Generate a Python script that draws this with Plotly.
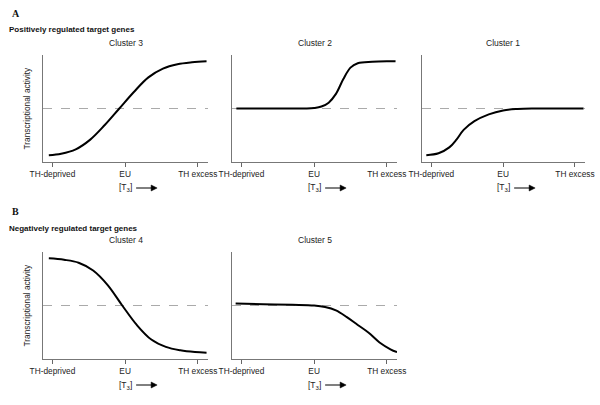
import plotly.graph_objects as go

# ---- data ----
tick_vals = [0, 1, 2]
tick_labels = ["TH-deprived", "EU", "TH excess"]
baseline = 0.5

c3_x = [-0.05, 0.12, 0.32, 0.52, 0.72, 0.92, 1.12, 1.32, 1.52, 1.72, 1.92, 2.12]
c3_y = [0.02, 0.035, 0.08, 0.18, 0.33, 0.5, 0.67, 0.82, 0.91, 0.955, 0.975, 0.985]

c2_x = [-0.07, 0.5, 0.9, 1.0, 1.1, 1.2, 1.3, 1.4, 1.5, 1.6, 1.8, 2.0, 2.12]
c2_y = [0.5, 0.5, 0.5, 0.505, 0.52, 0.56, 0.65, 0.8, 0.92, 0.965, 0.98, 0.985, 0.985]

c1_x = [-0.07, 0.1, 0.25, 0.35, 0.45, 0.6, 0.8, 1.0, 1.2, 1.4, 1.8, 2.12]
c1_y = [0.02, 0.04, 0.1, 0.18, 0.28, 0.37, 0.44, 0.48, 0.495, 0.5, 0.5, 0.5]

c4_x = [-0.05, 0.16, 0.36, 0.56, 0.76, 0.96, 1.16, 1.36, 1.56, 1.76, 1.96, 2.12]
c4_y = [0.985, 0.97, 0.94, 0.86, 0.71, 0.5, 0.3, 0.15, 0.075, 0.04, 0.022, 0.015]

c5_x = [-0.08, 0.3, 0.7, 1.0, 1.15, 1.3, 1.45, 1.6, 1.75, 1.9, 2.05, 2.14]
c5_y = [0.52, 0.513, 0.507, 0.5, 0.485, 0.45, 0.38, 0.3, 0.22, 0.12, 0.05, 0.02]

panels = [
    ("Cluster 3", c3_x, c3_y, (43, 208), (55, 162), True),
    ("Cluster 2", c2_x, c2_y, (232, 397), (55, 162), False),
    ("Cluster 1", c1_x, c1_y, (422, 585), (55, 162), False),
    ("Cluster 4", c4_x, c4_y, (43, 208), (252, 359), True),
    ("Cluster 5", c5_x, c5_y, (232, 397), (252, 359), False),
]

W, H = 600, 405
XR = [-0.13, 2.14]
FONT = "Liberation Sans, Arial, sans-serif"
fig = go.Figure()
annotations = []
shapes = []


def px(xp):
    return xp / W


def py(yp):
    return 1 - yp / H


def txt(text, x, y, size=8.5, xanchor="center", family=FONT, color="#222", angle=0):
    return dict(text=text, x=px(x), y=py(y), xref="paper", yref="paper", showarrow=False,
                xanchor=xanchor, yanchor="middle", textangle=angle,
                font=dict(family=family, size=size, color=color))


for i, (name, xs, ys, (x0, x1), (y0, y1), ytitle) in enumerate(panels):
    n = "" if i == 0 else str(i + 1)
    xa, ya = "x" + n, "y" + n
    fig.add_trace(go.Scatter(
        x=xs, y=ys, mode="lines", line=dict(color="#000", width=2, shape="spline", smoothing=1.0),
        xaxis=xa, yaxis=ya, showlegend=False, hoverinfo="skip"))
    fig.layout["xaxis" + n] = dict(
        domain=[px(x0), px(x1)], anchor=ya, range=XR, automargin=False,
        tickvals=tick_vals, ticktext=tick_labels, ticks="outside", ticklen=4,
        tickcolor="#666", tickwidth=1, showline=True, linecolor="#777", linewidth=1,
        showgrid=False, zeroline=False, fixedrange=True,
        tickfont=dict(family=FONT, size=8.3, color="#222"))
    fig.layout["yaxis" + n] = dict(
        domain=[py(y1), py(y0)], anchor=xa, range=[-0.05, 1.05], automargin=False,
        showticklabels=False, ticks="", showline=True, linecolor="#777", linewidth=1,
        showgrid=False, zeroline=False, fixedrange=True)
    if ytitle:
        annotations.append(txt("Transcriptional activity", 26, (y0 + y1) / 2, size=8.3, angle=-90))
    shapes.append(dict(type="line", xref=xa + " domain", yref=ya, x0=0, x1=1,
                       y0=baseline, y1=baseline,
                       line=dict(color="#aaa", width=1, dash="dash"), layer="below"))
    annotations.append(txt(name, (x0 + x1) / 2, y0 - 12))
    # [T3] label with arrow
    eu_px = x0 + (1 - XR[0]) / (XR[1] - XR[0]) * (x1 - x0)
    ly = y1 + 26
    annotations.append(txt("[T<sub>3</sub>]", eu_px, ly))
    shapes.append(dict(type="line", xref="paper", yref="paper",
                       x0=px(eu_px + 11), x1=px(eu_px + 27), y0=py(ly), y1=py(ly),
                       line=dict(color="#000", width=1)))
    shapes.append(dict(type="path", xref="paper", yref="paper",
                       path=f"M {px(eu_px + 26)} {py(ly - 3)} L {px(eu_px + 32)} {py(ly)} "
                            f"L {px(eu_px + 26)} {py(ly + 3)} Z",
                       fillcolor="#000", line=dict(color="#000", width=0.5)))

annotations += [
    txt("<b>A</b>", 10, 14, size=10, xanchor="left", family="Liberation Serif, serif", color="#111"),
    txt("<b>Positively regulated target genes</b>", 7, 29, size=8, xanchor="left", color="#111"),
    txt("<b>B</b>", 10, 211, size=10, xanchor="left", family="Liberation Serif, serif", color="#111"),
    txt("<b>Negatively regulated target genes</b>", 7, 228, size=8, xanchor="left", color="#111"),
]

fig.update_layout(width=W, height=H, margin=dict(l=0, r=0, t=0, b=0),
                  paper_bgcolor="white", plot_bgcolor="white",
                  annotations=annotations, shapes=shapes)
fig.write_html("out.html", config={"displayModeBar": False},
               post_script="document.body.style.margin='0';")
